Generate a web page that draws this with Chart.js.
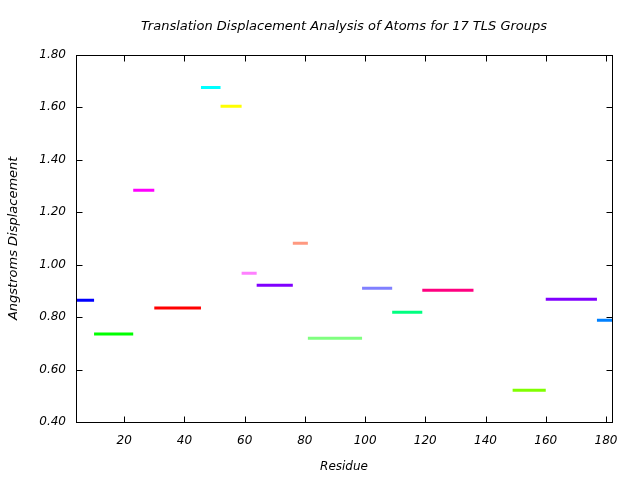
<!DOCTYPE html>
<html>
<head>
<meta charset="utf-8">
<script src="https://cdn.jsdelivr.net/npm/chart.js@4"></script>
<style>
  html, body { margin: 0; padding: 0; background: #fff; }
</style>
</head>
<body>
<canvas id="tls" width="640" height="480"></canvas>
<script>
// TLS group residue ranges and mean translation displacement
const segStart = [4, 10, 23, 30, 45.5, 52, 59, 64, 76, 81, 99, 109, 119, 149, 160, 177];
const segEnd   = [10, 23, 30, 45.5, 52, 59, 64, 76, 81, 99, 109, 119, 136, 160, 177, 182];
const displacement = [0.864, 0.735, 1.283, 0.834, 1.675, 1.603, 0.967, 0.921, 1.081, 0.719, 0.910, 0.818, 0.902, 0.521, 0.868, 0.788];
const segColors = ["#0000ff", "#00ff00", "#ff00ff", "#ff0000", "#00ffff", "#ffff00", "#ff80ff", "#8000ff",
                   "#ff9980", "#80ff80", "#8080ff", "#00ff80", "#ff0080", "#80ff00", "#8000ff", "#0080ff"];
const xTicks = [20, 40, 60, 80, 100, 120, 140, 160, 180];
const yTicks = [0.4, 0.6, 0.8, 1.0, 1.2, 1.4, 1.6, 1.8];

const FONT = "'DejaVu Sans', sans-serif";

const datasets = displacement.map((v, i) => ({
    label: "Group " + (i + 1),
    data: [{ x: segStart[i], y: v }, { x: segEnd[i], y: v }],
    borderColor: segColors[i],
    borderWidth: 3,
    pointRadius: 0,
    borderCapStyle: "butt",
}));

// draws the frame and inward ticks on all four sides, gnuplot style
const frameTicks = {
    id: "frameTicks",
    afterDraw(chart) {
        const { ctx, chartArea: a, scales } = chart;
        ctx.save();
        ctx.strokeStyle = "#000";
        ctx.lineWidth = 1;
        const l = Math.round(a.left) + 0.5, r = Math.round(a.right) + 0.5;
        const t = Math.round(a.top) + 0.5, b = Math.round(a.bottom) + 0.5;
        ctx.strokeRect(l, t, r - l, b - t);
        ctx.beginPath();
        xTicks.forEach(v => {
            const px = Math.round(scales.x.getPixelForValue(v)) + 0.5;
            ctx.moveTo(px, b); ctx.lineTo(px, b - 6);
            ctx.moveTo(px, t); ctx.lineTo(px, t + 6);
        });
        yTicks.forEach(v => {
            const py = Math.round(scales.y.getPixelForValue(v)) + 0.5;
            ctx.moveTo(l, py); ctx.lineTo(l + 6, py);
            ctx.moveTo(r, py); ctx.lineTo(r - 6, py);
        });
        ctx.stroke();
        ctx.restore();
    }
};

new Chart(document.getElementById("tls"), {
    type: "line",
    data: { datasets: datasets },
    options: {
        responsive: false,
        animation: false,
        layout: { padding: { left: 0, right: 28, top: 0, bottom: 0 } },
        plugins: {
            legend: { display: false },
            tooltip: { enabled: false },
            title: {
                display: true,
                text: "Translation Displacement Analysis of Atoms for 17 TLS Groups",
                fullSize: false,
                color: "#000",
                font: { family: FONT, size: 13, style: "italic", weight: "normal" },
                padding: { top: 19, bottom: 20 },
            },
        },
        scales: {
            x: {
                type: "linear",
                min: 4,
                max: 182,
                afterBuildTicks: s => { s.ticks = xTicks.map(v => ({ value: v })); },
                afterFit: s => { s.height = 58; },
                grid: { display: false, drawTicks: false },
                border: { display: false },
                ticks: {
                    color: "#000",
                    padding: 12,
                    font: { family: FONT, size: 12, style: "italic" },
                    maxRotation: 0,
                },
                title: {
                    display: true,
                    text: "Residue",
                    color: "#000",
                    font: { family: FONT, size: 12, style: "italic" },
                    padding: { top: 8, bottom: 6 },
                },
            },
            y: {
                min: 0.4,
                max: 1.8,
                afterBuildTicks: s => { s.ticks = yTicks.map(v => ({ value: v })); },
                afterFit: s => { s.width = 76; },
                grid: { display: false, drawTicks: false },
                border: { display: false },
                ticks: {
                    color: "#000",
                    padding: 10,
                    font: { family: FONT, size: 12, style: "italic" },
                    callback: v => v.toFixed(2),
                },
                title: {
                    display: true,
                    text: "Angstroms Displacement",
                    color: "#000",
                    font: { family: FONT, size: 13, style: "italic" },
                    padding: { top: 6, bottom: 0 },
                },
            },
        },
    },
    plugins: [frameTicks],
});
</script>
</body>
</html>
